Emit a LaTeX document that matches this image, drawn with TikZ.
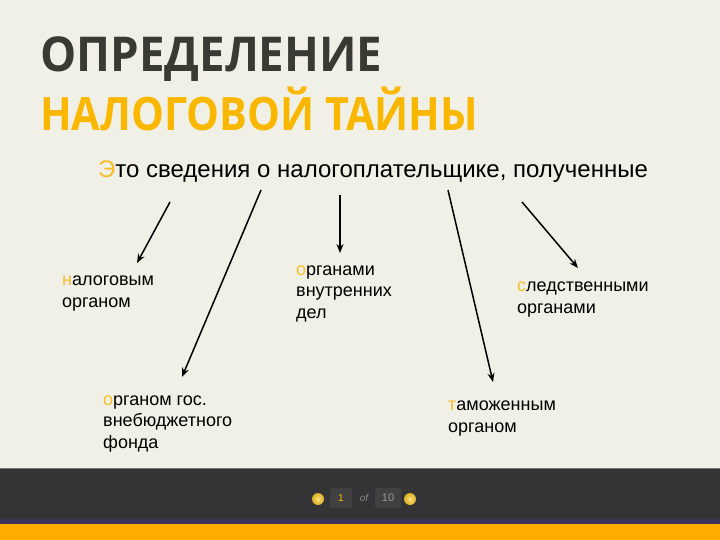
\documentclass[tikz,border=0pt]{standalone}
\usepackage{fontspec}
\usepackage{graphicx}
\setmainfont{Liberation Sans}
\newfontfamily\titlefont{Open Sans}[BoldFont={* Bold}]
\usetikzlibrary{arrows.meta}
\definecolor{bgcream}{RGB}{240,240,230}
\definecolor{titledark}{RGB}{58,58,52}
\definecolor{titleorange}{RGB}{250,183,0}
\definecolor{accent}{RGB}{246,190,40}
\definecolor{footdark}{RGB}{52,52,54}
\definecolor{footorange}{RGB}{255,172,0}
\definecolor{footline}{RGB}{60,50,90}
\definecolor{ballyellow}{RGB}{255,205,40}
\newcommand\fl[1]{\textcolor{accent}{#1}}
\tikzset{
  lbl/.style={anchor=base west, inner sep=0pt, align=left,
    font=\fontsize{18}{21.5}\selectfont, text=black},
  arr/.style={-{Stealth[length=9pt,width=7pt]}, line width=1.5pt, black},
  navball/.style={circle, minimum size=12pt, inner sep=0pt, inner color=ballyellow!60!white, outer color=ballyellow!85!black},
  navbox/.style={rounded corners=2pt, minimum width=22pt, minimum height=20pt, inner sep=0pt}
}
\begin{document}
\begin{tikzpicture}[x=1pt,y=-1pt]
\useasboundingbox (0,0) rectangle (720,540);
\fill[bgcream] (0,0) rectangle (720,468);
% footer
\fill[footdark] (0,468) rectangle (720,522);
\draw[black!55, line width=1pt] (0,468) -- (720,468);
\fill[footline] (0,519) rectangle (720,524);
\fill[footorange] (0,524) rectangle (720,540);
\node[navball] (prev) at (318,499) {};
\node[navbox, fill=black!75] (cur) at (341,498) {\fontsize{10}{10}\selectfont\textcolor{titleorange}{1}};
\node[inner sep=0pt, text=black!45] (of) at (364,498) {\fontsize{10}{10}\selectfont\itshape of};
\node[navbox, fill=black!75, minimum width=26pt] (tot) at (388,498) {\fontsize{11}{11}\selectfont\textcolor{black!40}{10}};
\node[navball] (next) at (410,499) {};
% title
\node[anchor=base west, inner sep=0pt, text=titledark] (t1) at (40,72)
  {\scalebox{0.95}[1]{\titlefont\bfseries\fontsize{48}{48}\selectfont ОПРЕДЕЛЕНИЕ}};
\node[anchor=base west, inner sep=0pt, text=titleorange] (t2) at (40,131)
  {\scalebox{0.9}[1]{\titlefont\bfseries\fontsize{46}{46}\selectfont НАЛОГОВОЙ ТАЙНЫ}};
% main sentence
\node[anchor=base west, inner sep=0pt] (main) at (98,178)
  {\fontsize{24}{24}\selectfont\fl{Э}то сведения о налогоплательщике, полученные};
% labels (anchor = baseline of last line)
\node[lbl] (a) at (62,307) {\fl{н}алоговым\\органом};
\node[lbl] (b) at (103,448) {\fl{о}рганом гос.\\внебюджетного\\фонда};
\node[lbl] (c) at (296,318) {\fl{о}рганами\\внутренних\\дел};
\node[lbl] (d) at (517,313) {\fl{с}ледственными\\органами};
\node[lbl] (e) at (448,432) {\fl{т}аможенным\\органом};
% arrow endpoints
\coordinate (s1) at (170,202); \coordinate (e1) at (137,263);
\coordinate (s2) at (261,190); \coordinate (e2) at (182,377);
\coordinate (s3) at (340,195); \coordinate (e3) at (340,253);
\coordinate (s4) at (448,190); \coordinate (e4) at (493,382);
\coordinate (s5) at (522,202); \coordinate (e5) at (578,268);
\draw[arr] (s1) -- (e1);
\draw[arr] (s2) -- (e2);
\draw[arr] (s3) -- (e3);
\draw[arr] (s4) -- (e4);
\draw[arr] (s5) -- (e5);
\end{tikzpicture}
\end{document}
